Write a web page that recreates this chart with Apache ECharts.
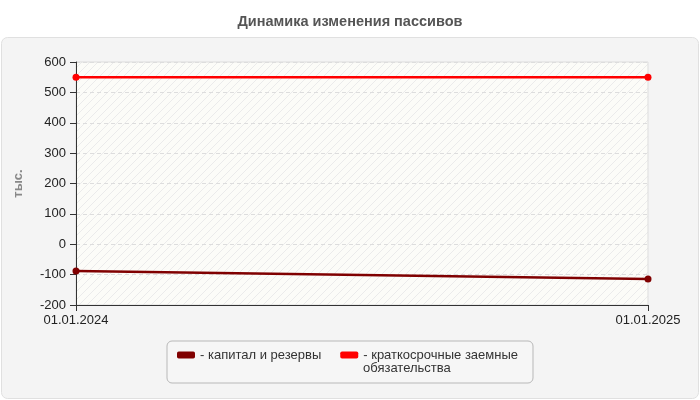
<!DOCTYPE html>
<html><head><meta charset="utf-8">
<script src="https://cdn.jsdelivr.net/npm/echarts@6/dist/echarts.min.js"></script>
<style>html,body{margin:0;padding:0;background:#fff}#c{width:700px;height:400px}</style>
</head><body><div id="c"></div>
<script>
const categories = ['01.01.2024', '01.01.2025'];
const capitalReserves = [-88, -114];
const shortTermLoans = [550, 550];
const seriesNames = ['капитал и резервы', 'краткосрочные заемные обязательства'];
const yTicks = { min: -200, max: 600, interval: 100 };

// hatch pattern for plot background
const pc = document.createElement('canvas');
pc.width = 8; pc.height = 8;
const g = pc.getContext('2d');
g.fillStyle = '#fcfcf8'; g.fillRect(0,0,8,8);
g.strokeStyle = '#ebebeb'; g.lineWidth = 1;
g.beginPath(); g.moveTo(0,8); g.lineTo(8,0); g.moveTo(-4,4); g.lineTo(4,-4); g.moveTo(4,12); g.lineTo(12,4); g.stroke();

const chart = echarts.init(document.getElementById('c'));
const font = 'Liberation Sans, Arial, sans-serif';
chart.setOption({
  animation: false,
  textStyle: { fontFamily: font },
  title: { text: 'Динамика изменения пассивов', left: 'center', top: 9,
    textStyle: { fontSize: 14.5, fontWeight: 'bold', color: '#555', fontFamily: font } },
  graphic: [
    { type: 'rect', z: -10, left: 1, top: 37,
      shape: { width: 697, height: 361, r: 6 },
      style: { fill: '#f4f4f4', stroke: '#e0e0e0', lineWidth: 1 } },
    { type: 'text', left: 363, top: 362, z: 10,
      style: { text: 'обязательства', fontSize: 13, fill: '#333', fontFamily: font } }
  ],
  grid: { left: 76, right: 52, top: 62, bottom: 95, show: true,
    backgroundColor: { image: pc, repeat: 'repeat' }, borderColor: '#ddd', borderWidth: 1 },
  legend: {
    top: 341, left: 167, itemGap: 19,
    borderColor: '#b8b8b8', borderWidth: 1, borderRadius: 5, padding: [7, 15, 21, 10],
    backgroundColor: '#f6f6f6',
    itemWidth: 18, itemHeight: 7, icon: 'roundRect',
    textStyle: { fontSize: 13, color: '#333', lineHeight: 14 },
    formatter: n => '- ' + n.replace(' обязательства', ''),
    data: seriesNames
  },
  xAxis: { type: 'category', data: categories, boundaryGap: false,
    axisLine: { onZero: false, lineStyle: { color: '#333' } },
    axisTick: { alignWithLabel: true, length: 6, lineStyle: { color: '#333' } },
    axisLabel: { color: '#222', fontSize: 13, margin: 9 },
    splitLine: { show: false } },
  yAxis: { type: 'value', min: yTicks.min, max: yTicks.max, interval: yTicks.interval,
    name: 'тыс.', nameLocation: 'middle', nameGap: 51, nameRotate: 90,
    nameTextStyle: { color: '#888', fontWeight: 'bold', fontSize: 13 },
    axisLine: { show: true, lineStyle: { color: '#333' } },
    axisTick: { show: true, length: 6, lineStyle: { color: '#333' } },
    axisLabel: { color: '#222', fontSize: 13, margin: 10 },
    splitLine: { lineStyle: { color: '#ddd', type: [4, 3] } } },
  series: [
    { name: seriesNames[0], type: 'line', data: capitalReserves, color: '#800000',
      symbol: 'circle', symbolSize: 7, lineStyle: { width: 2.5, color: '#800000' } },
    { name: seriesNames[1], type: 'line', data: shortTermLoans, color: '#ff0000',
      symbol: 'circle', symbolSize: 7, lineStyle: { width: 2.5, color: '#ff0000' } }
  ]
});
</script></body></html>
